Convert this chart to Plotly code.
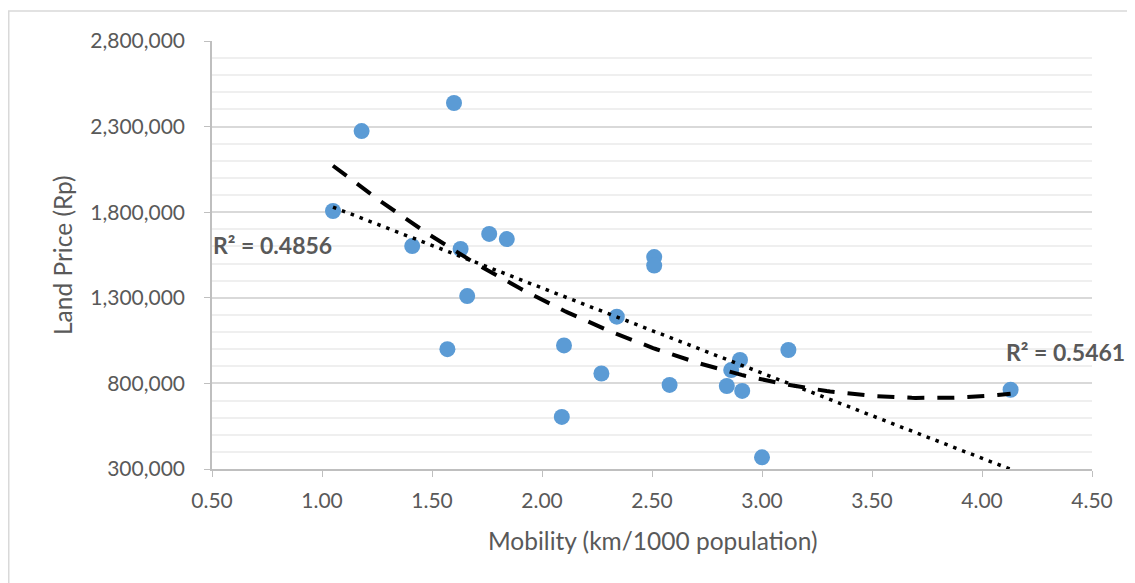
import numpy as np
import plotly.graph_objects as go

# Data
mobility = [1.05, 1.18, 1.60, 1.41, 1.63, 1.57, 1.66, 1.76, 1.84, 2.10, 2.09, 2.27,
            2.34, 2.51, 2.51, 2.58, 2.84, 2.86, 2.90, 2.91, 3.00, 3.12, 4.13]
land_price = [1807000, 2274000, 2438000, 1602000, 1585000, 1000000, 1310000, 1673000,
              1643000, 1022000, 604000, 858000, 1190000, 1538000, 1488000, 791000,
              785000, 878000, 937000, 756000, 368000, 995000, 763000]

x_ticks = [0.5, 1.0, 1.5, 2.0, 2.5, 3.0, 3.5, 4.0, 4.5]
y_ticks = [300000, 800000, 1300000, 1800000, 2300000, 2800000]

x_title = "Mobility (km/1000 population)"
y_title = "Land Price (Rp)"
r2_linear_label = "R² = 0.4856"
r2_poly_label = "R² = 0.5461"

# Trendlines fitted from the data (linear and 2nd order polynomial)
xs = np.linspace(min(mobility), max(mobility), 200)
lin = np.polyfit(mobility, land_price, 1)
poly = np.polyfit(mobility, land_price, 2)

FONT = "Lato"
GRAY = "#595959"

fig = go.Figure()
fig.add_trace(go.Scatter(
    x=mobility, y=land_price, mode="markers",
    marker=dict(size=16, color="#5B9BD5"), showlegend=False, hoverinfo="x+y"))
fig.add_trace(go.Scatter(
    x=xs, y=np.polyval(poly, xs), mode="lines",
    line=dict(color="black", width=4, dash="17px,13px"), showlegend=False))
fig.add_trace(go.Scatter(
    x=xs, y=np.polyval(lin, xs), mode="lines",
    line=dict(color="black", width=3.5, dash="3.5px,6px"), showlegend=False))

# page offset of the figure (body margin)
OFF = 8
W, H = 1135 - OFF, 583 - OFF
L, T = 212 - OFF, 41 - OFF
pw, ph = 880, 428
R = W - L - pw
B = H - T - ph


def px_x(p):
    return (p - OFF - L) / pw


def px_y(p):
    return (H - B - (p - OFF)) / ph


fig.add_annotation(x=px_x(211), y=px_y(245), xref="paper", yref="paper",
                   xanchor="left", yanchor="middle", showarrow=False,
                   text=f"<b>{r2_linear_label}</b>",
                   font=dict(family=FONT, size=23, color=GRAY))
fig.add_annotation(x=px_x(1127), y=px_y(352), xref="paper", yref="paper",
                   xanchor="right", yanchor="middle", showarrow=False,
                   text=f"<b>{r2_poly_label}</b>",
                   font=dict(family=FONT, size=23, color=GRAY))

# axis titles
fig.add_annotation(x=px_x(653), y=px_y(540), xref="paper", yref="paper",
                   xanchor="center", yanchor="middle", showarrow=False,
                   text=x_title, font=dict(family=FONT, size=24.5, color=GRAY))
fig.add_annotation(x=px_x(62), y=px_y(255), xref="paper", yref="paper",
                   xanchor="center", yanchor="middle", showarrow=False,
                   textangle=-90,
                   text=y_title, font=dict(family=FONT, size=24.5, color=GRAY))

# chart-area border (partly cut off in the reference)
fig.add_shape(type="line", xref="paper", yref="paper",
              x0=px_x(8.75), x1=px_x(8.75), y0=px_y(11), y1=px_y(600),
              line=dict(color="#d9d9d9", width=1.5))
fig.add_shape(type="line", xref="paper", yref="paper",
              x0=px_x(8), x1=px_x(1150), y0=px_y(11), y1=px_y(11),
              line=dict(color="#d9d9d9", width=1.5))

fig.update_layout(
    width=W, height=H,
    margin=dict(l=L, r=R, t=T, b=B, autoexpand=False),
    paper_bgcolor="white", plot_bgcolor="white",
    font=dict(family=FONT, size=21, color=GRAY),
    xaxis=dict(range=[0.5, 4.5], tickvals=x_ticks, tickformat=".2f",
               showgrid=False, zeroline=False, showline=True, linecolor="#bfbfbf",
               linewidth=1.5, ticks="outside", ticklen=6, tickcolor="#bfbfbf",
               ticklabelstandoff=6,
               tickfont=dict(size=21, color=GRAY)),
    yaxis=dict(range=[300000, 2800000], tickvals=y_ticks, tickformat=",d",
               showgrid=True, gridcolor="#d9d9d9", gridwidth=1.5, zeroline=False,
               showline=True, linecolor="#bfbfbf", linewidth=1.5,
               ticks="outside", ticklen=6, tickcolor="#bfbfbf",
               minor=dict(dtick=100000, tick0=300000, showgrid=True,
                          gridcolor="#efefef", gridwidth=1.5),
               ticklabelstandoff=15,
               tickfont=dict(size=21, color=GRAY)),
)

fig.write_html("out.html")
